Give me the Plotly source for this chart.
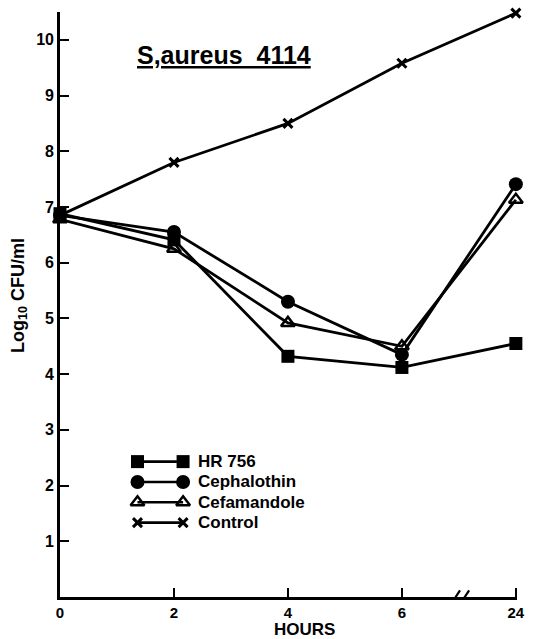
import plotly.graph_objects as go

# Sampling times (hours); 24 h sits after an axis break, so points are evenly spaced
hours = ["0", "2", "4", "6", "24"]
positions = [0, 1, 2, 3, 4]

# log10 CFU/ml
hr756 = [6.88, 6.41, 4.32, 4.12, 4.55]
cephalothin = [6.85, 6.55, 5.30, 4.35, 7.41]
cefamandole = [6.78, 6.25, 4.92, 4.50, 7.13]
control = [6.85, 7.80, 8.50, 9.58, 10.48]

series_names = ["HR 756", "Cephalothin", "Cefamandole", "Control"]
yticks = [1, 2, 3, 4, 5, 6, 7, 8, 9, 10]

FONT = "Liberation Sans"
INK = "black"

styles = {
    "HR 756": dict(symbol="square", size=13, color=INK, line=dict(width=0)),
    "Cephalothin": dict(symbol="circle", size=14, color=INK, line=dict(width=0)),
    "Cefamandole": dict(symbol="triangle-up-open", size=12, color=INK,
                        line=dict(width=2.5, color=INK)),
    "Control": dict(symbol="x-thin", size=9, color=INK,
                    line=dict(width=3, color=INK)),
}
values = {"HR 756": hr756, "Cephalothin": cephalothin,
          "Cefamandole": cefamandole, "Control": control}

fig = go.Figure()

for name in series_names:
    fig.add_trace(go.Scatter(
        x=positions, y=values[name], mode="lines+markers", name=name,
        line=dict(color=INK, width=2.8),
        marker=styles[name], cliponaxis=False, showlegend=False,
    ))

# Hand-drawn style key: a marker at each end of a short line
key_x = [0.68, 1.08]
key_y0, key_step = 2.43, 0.365
for i, name in enumerate(series_names):
    yk = key_y0 - i * key_step
    fig.add_trace(go.Scatter(
        x=key_x, y=[yk, yk], mode="lines+markers",
        line=dict(color=INK, width=2.6),
        marker=styles[name], cliponaxis=False, showlegend=False,
        hoverinfo="skip",
    ))
    fig.add_annotation(x=1.19, y=yk, text=name, showarrow=False,
                       xanchor="left", yanchor="middle",
                       font=dict(family=FONT, size=17, weight="bold", color=INK))

# Axis break marks between 6 and 24 hours
fig.add_shape(type="rect", x0=3.46, x1=3.56, y0=-0.05, y1=0.05,
              line=dict(width=0), fillcolor="white", layer="above")
for dx in (3.44, 3.52):
    fig.add_shape(type="line", x0=dx, x1=dx + 0.07, y0=-0.10, y1=0.12,
                  line=dict(color=INK, width=2.2), layer="above")

fig.add_annotation(x=0.655, y=9.72, text="S,aureus  4114", showarrow=False,
                   xanchor="left", yanchor="middle",
                   font=dict(family=FONT, size=25, weight="bold", color=INK,
                             lineposition="under"))

fig.add_annotation(xref="paper", yref="paper", x=-0.089, y=0.515,
                   text="Log<sub>10</sub> CFU/ml", textangle=-90, showarrow=False,
                   xanchor="center", yanchor="middle",
                   font=dict(family=FONT, size=18, weight="bold", color=INK))

# x-axis title
fig.add_annotation(xref="paper", yref="paper", x=0.535, y=-0.056,
                   text="HOURS", showarrow=False,
                   xanchor="center", yanchor="middle",
                   font=dict(family=FONT, size=17, weight="bold", color=INK))

fig.update_layout(
    width=538, height=639,
    margin=dict(l=60, r=21, t=12, b=42),
    paper_bgcolor="white", plot_bgcolor="white",
    xaxis=dict(
        range=[0, 4.01], tickvals=positions, ticktext=hours, automargin=False,
        showgrid=False, zeroline=False, showline=True, linecolor=INK, linewidth=2.6,
        ticks="inside", ticklen=9, tickwidth=2.4, tickcolor=INK,
        tickfont=dict(family=FONT, size=15, weight="bold", color=INK),
    ),
    yaxis=dict(
        range=[0, 10.5], tickvals=yticks, automargin=False,
        showgrid=False, zeroline=False, showline=True, linecolor=INK, linewidth=2.6,
        ticks="inside", ticklen=9, tickwidth=2.4, tickcolor=INK,
        tickfont=dict(family=FONT, size=16, weight="bold", color=INK),
    ),
)

fig.write_html("out.html")
